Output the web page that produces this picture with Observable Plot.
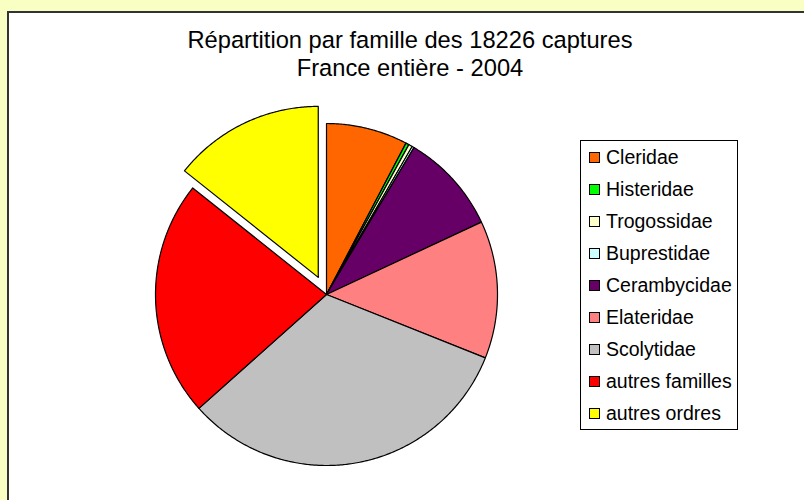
<!DOCTYPE html>
<html><head><meta charset="utf-8">
<script src="https://cdn.jsdelivr.net/npm/d3@7"></script>
<script src="https://cdn.jsdelivr.net/npm/@observablehq/plot@0.6"></script>
<style>
body{margin:0;background:#F9FFC3;font-family:"Liberation Sans",Arial,sans-serif;overflow:hidden;width:804px;height:500px;position:relative;}
#frame{position:absolute;left:7px;top:11px;width:900px;height:600px;background:#fff;border:2px solid #333;}
#chart{position:absolute;left:0;top:0;}
.title{position:absolute;left:0;width:820px;text-align:center;font-size:23.7px;color:#000;white-space:nowrap;}
#legend{position:absolute;left:580px;top:140px;width:158px;height:290px;border:1px solid #000;background:#fff;box-sizing:border-box;}
.item{position:absolute;left:8px;height:20px;font-size:19.5px;line-height:20px;white-space:nowrap;}
.sw{display:inline-block;width:9px;height:9px;border:1px solid #000;margin-right:6px;vertical-align:1px;}
</style></head>
<body>
<div id="frame"></div>
<div id="chart"></div>
<div class="title" style="top:27px">Répartition par famille des 18226 captures</div>
<div class="title" style="top:55px">France entière - 2004</div>
<div id="legend"></div>
<script>
const names = ["Cleridae","Histeridae","Trogossidae","Buprestidae","Cerambycidae","Elateridae","Scolytidae","autres familles","autres ordres"];
const counts = [1403, 55, 64, 36, 1731, 2369, 5898, 4064, 2606];
const colors = ["#FF6600","#00FF00","#FFFFCC","#CCFFFF","#660066","#FF8080","#C0C0C0","#FF0000","#FFFF00"];
const exploded = ["autres ordres"];

const W = 804, H = 500, CX = 326, CY = 294, R = 171, OFF = 19;
const total = d3.sum(counts);
const pts = [];
let acc = 0;
names.forEach((n, i) => {
  const a0 = acc / total * 2 * Math.PI;
  acc += counts[i];
  const a1 = acc / total * 2 * Math.PI;
  const mid = (a0 + a1) / 2;
  const off = exploded.includes(n) ? OFF / R : 0;
  const cx = off * Math.sin(mid), cy = off * Math.cos(mid);
  pts.push({name: n, x: cx, y: cy});
  const steps = Math.max(2, Math.ceil((a1 - a0) / (Math.PI / 360)));
  for (let k = 0; k <= steps; k++) {
    const a = a0 + (a1 - a0) * k / steps;
    pts.push({name: n, x: cx + Math.sin(a), y: cy + Math.cos(a)});
  }
  pts.push({name: n, x: cx, y: cy});
});

const chart = Plot.plot({
  width: W, height: H,
  margin: 0,
  style: {background: "transparent", overflow: "visible"},
  x: {domain: [-CX / R, (W - CX) / R], axis: null},
  y: {domain: [-(H - CY) / R, CY / R], axis: null},
  color: {domain: names, range: colors},
  marks: [
    Plot.line(pts, {x: "x", y: "y", z: "name", fill: "name", stroke: "#000", strokeWidth: 1.2, strokeLinejoin: "round", curve: "linear"})
  ]
});
document.getElementById("chart").appendChild(chart);

const leg = document.getElementById("legend");
names.forEach((n, i) => {
  const d = document.createElement("div");
  d.className = "item";
  d.style.top = (6 + i * 32) + "px";
  const s = document.createElement("span");
  s.className = "sw";
  s.style.background = colors[i];
  d.appendChild(s);
  d.appendChild(document.createTextNode(n));
  leg.appendChild(d);
});
</script>
</body></html>
